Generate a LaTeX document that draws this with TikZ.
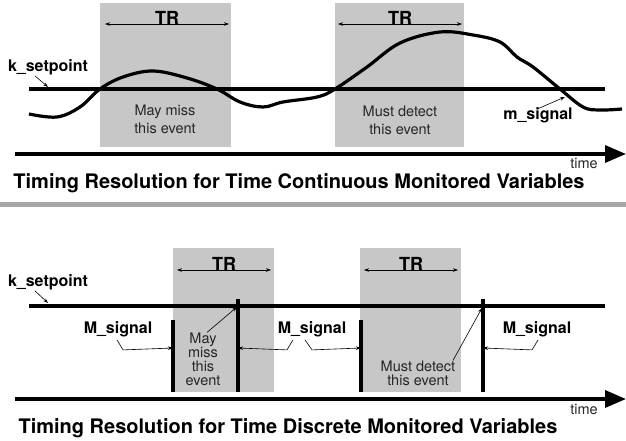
\documentclass[tikz,border=0pt]{standalone}
\usepackage{fontspec}
\setmainfont{TeX Gyre Heros}
\usetikzlibrary{arrows.meta,positioning}

\begin{document}
\begin{tikzpicture}[x=1pt, y=-1pt,
  band/.style={fill=black!22, draw=none},
  lbl/.style={font=\fontsize{16}{18}\selectfont\bfseries, inner sep=0pt},
  trlbl/.style={font=\fontsize{18}{20}\selectfont\bfseries, inner sep=0pt},
  note/.style={font=\fontsize{14.5}{18}\selectfont, align=center, inner sep=0pt, text=black!85},
  tight/.style={font=\fontsize{14.5}{14}\selectfont},
  ttl/.style={font=\fontsize{20}{22}\selectfont\bfseries, inner sep=0pt},
  thk/.style={line width=3.2pt},
  arr/.style={-{Stealth[length=5pt,width=3.5pt]}, semithick},
  span/.style={{Stealth[length=5pt,width=3.5pt]}-{Stealth[length=5pt,width=3.5pt]}, semithick},
  axis/.style={line width=3.4pt, -{Triangle[length=21pt,width=17pt]}}
]
\useasboundingbox (0,0) rectangle (626,441);

\fill[band] (100,3) rectangle (231,147);
\fill[band] (335,3) rectangle (464,147);
\fill[band] (173,248) rectangle (274,392);
\fill[band] (360,248) rectangle (461,392);
\fill[black!35] (0,202) rectangle (626,207);

\coordinate (spa) at (29,89);
\coordinate (spb) at (605,89);
\coordinate (ta) at (15,154);
\coordinate (tb) at (626,154);
\coordinate (tra) at (105,24);
\coordinate (trb) at (229,24);
\coordinate (trc) at (338,24);
\coordinate (trd) at (462,24);

\node[trlbl, anchor=south] (tr1) at (167,25) {TR};
\node[trlbl, anchor=south] (tr2) at (400,25) {TR};
\draw[span] (tra) -- (trb);
\draw[span] (trc) -- (trd);

\node[lbl] (ksp1) at (48,67) {k\_setpoint};
\coordinate (ksp1t) at (48,87);
\draw[arr] ([xshift=-13pt,yshift=-1pt]ksp1.south) -- (ksp1t);
\draw[thk] (spa) -- (spb);

\draw[thk, line join=round] plot[smooth, tension=0.6] coordinates {
  (29,114) (57,117) (80,107) (100,89) (123,77) (153,71) (187,78) (217,89)
  (240,102) (263,107) (283,102) (317,97) (335,89) (367,67) (400,43) (440,32)
  (473,35) (500,42) (517,57) (533,67) (560,89) (583,107) (600,110) (622,109)};

\node[note] (miss1) at (165,119) {May miss\\this event};
\node[note] (det1) at (400,120) {Must detect\\this event};
\node[lbl] (msig) at (538,115) {m\_signal};
\coordinate (msigt) at (565,97);
\draw[arr] ([xshift=-1pt,yshift=-2pt]msig.north) -- (msigt);

\draw[axis] (ta) -- (tb);
\node[note, anchor=east] (time1) at (598,163) {time};
\node[ttl] (title1) at (299,183) {Timing Resolution for Time Continuous Monitored Variables};

\coordinate (spc) at (29,306);
\coordinate (spd) at (605,306);
\coordinate (tc) at (15,399);
\coordinate (td) at (626,399);
\coordinate (tre) at (177,270);
\coordinate (trf) at (271,270);
\coordinate (trg) at (364,270);
\coordinate (trh) at (458,270);

\node[trlbl, anchor=south] (tr3) at (224,271) {TR};
\node[trlbl, anchor=south] (tr4) at (411,271) {TR};
\draw[span] (tre) -- (trf);
\draw[span] (trg) -- (trh);

\node[lbl] (ksp2) at (48,282) {k\_setpoint};
\coordinate (ksp2t) at (48,303);
\draw[arr] ([xshift=-13pt,yshift=-1pt]ksp2.south) -- (ksp2t);
\draw[thk] (spc) -- (spd);

\coordinate (b1t) at (173,320);
\coordinate (b1b) at (173,392);
\coordinate (b2t) at (238,299);
\coordinate (b2b) at (238,392);
\coordinate (b3t) at (361,320);
\coordinate (b3b) at (361,392);
\coordinate (b4t) at (483,299);
\coordinate (b4b) at (483,392);
\draw[thk] (b1t) -- (b1b);
\draw[thk] (b2t) -- (b2b);
\draw[thk] (b3t) -- (b3b);
\draw[thk] (b4t) -- (b4b);

\node[lbl] (msg1) at (118,329) {M\_signal};
\node[lbl] (msg2) at (312,329) {M\_signal};
\node[lbl] (msg3) at (537,329) {M\_signal};
\draw[arr] ([xshift=-1pt,yshift=-3pt]msg1.south) -- ++(6,10) -- (b1t |- 0,348);
\draw[arr] ([xshift=-19pt,yshift=-3pt]msg2.south) -- ++(-6,10) -- (b2t |- 0,348);
\draw[arr] ([xshift=-7pt,yshift=-3pt]msg2.south) -- ++(7,10) -- (b3t |- 0,348);
\draw[arr] ([xshift=1pt,yshift=-3pt]msg3.south) -- ++(-6,10) -- (b4t |- 0,348);

\node[note, tight] (miss2) at (203,359) {May\\miss\\this\\event};
\node[note, tight] (det2) at (418,373) {Must detect\\this event};
\coordinate (hit1) at (237,307);
\coordinate (hit2) at (482,308);
\draw[arr] ([xshift=4pt]miss2.north) -- (hit1);
\draw[arr] ([xshift=35pt]det2.north) -- (hit2);

\draw[axis] (tc) -- (td);
\node[note, anchor=east] (time2) at (598,409) {time};
\node[ttl] (title2) at (288,428) {Timing Resolution for Time Discrete Monitored Variables};
\end{tikzpicture}
\end{document}
